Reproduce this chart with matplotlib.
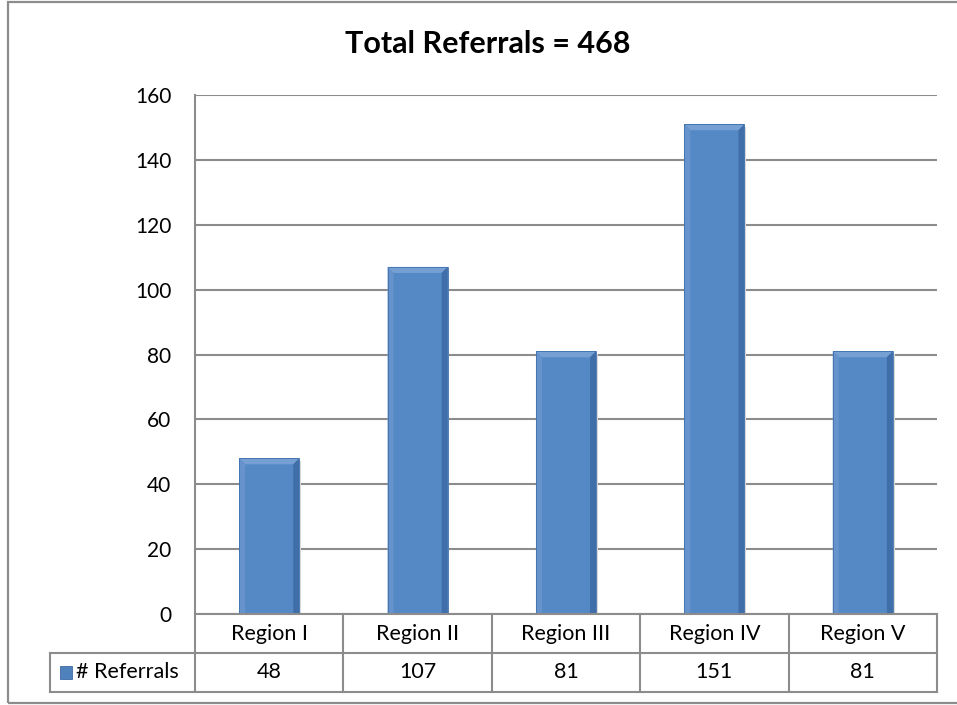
import matplotlib
matplotlib.use("Agg")
import matplotlib.pyplot as plt
from matplotlib.patches import Polygon, Rectangle

categories = ["Region I", "Region II", "Region III", "Region IV", "Region V"]
referrals = [48, 107, 81, 151, 81]
series_name = "# Referrals"
title = "Total Referrals = 468"
yticks = [0, 20, 40, 60, 80, 100, 120, 140, 160]

plt.rcParams['font.family'] = ['Lato', 'DejaVu Sans']

W, H = 957, 705
fig = plt.figure(figsize=(W / 100, H / 100), dpi=100)
fig.patch.set_facecolor("white")

def px(x0, y0, x1, y1):
    return [x0 / W, 1 - y1 / H, (x1 - x0) / W, (y1 - y0) / H]

# outer chart frame
fig.add_artist(Rectangle((8 / W, 1 - 703 / H), (W + 20) / W, 701 / H,
                         transform=fig.transFigure, fill=False,
                         edgecolor="#8c8c8c", linewidth=1.6))

L, R, T, B = 195, 937, 95, 614
ax = fig.add_axes(px(L, T, R, B))
ax.set_xlim(-0.5, len(categories) - 0.5)
ax.set_ylim(0, 160)
ax.set_yticks(yticks)
ax.set_xticks([])
for s in ["top", "right", "bottom"]:
    ax.spines[s].set_visible(False)
ax.spines["left"].set_color("#8c8c8c")
ax.spines["left"].set_linewidth(1.5)
ax.tick_params(axis="y", length=0, pad=17, labelsize=15, labelcolor="#000000")
ax.yaxis.grid(True, color="#8c8c8c", linewidth=1.5)
ax.set_axisbelow(True)

bar_color = "#4f81bd"
bars = ax.bar(range(len(categories)), referrals, width=0.405, color="#5589c6",
              edgecolor="none", zorder=3)

bx = 6 / ((R - L) / 5)        # bevel width in data x units
by = 6 / ((B - T) / 160)      # bevel height in data y units
for b in bars:
    x0 = b.get_x(); x1 = x0 + b.get_width(); h = b.get_height()
    # faint shadow
    ax.add_patch(Rectangle((x1, 0), 0.012, h - by * 0.5, facecolor="#d8d8d8",
                           edgecolor="none", zorder=2))
    # top bevel (light)
    ax.add_patch(Polygon([(x0, h), (x1, h), (x1 - bx, h - by), (x0 + bx, h - by)],
                         closed=True, facecolor="#76a0d4", edgecolor="none", zorder=4))
    # left bevel
    ax.add_patch(Polygon([(x0, h), (x0 + bx, h - by), (x0 + bx, 0), (x0, 0)],
                         closed=True, facecolor="#6693cc", edgecolor="none", zorder=4))
    # right bevel (dark)
    ax.add_patch(Polygon([(x1, h), (x1 - bx, h - by), (x1 - bx, 0), (x1, 0)],
                         closed=True, facecolor="#406ea8", edgecolor="none", zorder=4))
    ax.add_patch(Rectangle((x0, 0), x1 - x0, h, fill=False, edgecolor="#4070ae",
                           linewidth=0.6, zorder=5))

# title
fig.text(488 / W, 1 - 44 / H, title, ha="center", va="center",
         fontsize=22, fontweight="bold", color="#000000")

# data table below the plot area
tax = fig.add_axes(px(50, B, R, 692))
xl = -0.5 - (L - 50) / ((R - L) / 5)
n = len(categories)
tax.set_xlim(xl, n - 0.5)
tax.set_ylim(2, 0)
tax.axis("off")
lc = "#8c8c8c"
lw = 1.5
tax.plot([-0.5, n - 0.5], [0, 0], color=lc, lw=lw, clip_on=False)
tax.plot([xl, n - 0.5], [1, 1], color=lc, lw=lw, clip_on=False)
tax.plot([xl, n - 0.5], [2, 2], color=lc, lw=lw, clip_on=False)
tax.plot([xl, xl], [1, 2], color=lc, lw=lw, clip_on=False)
for k in range(n + 1):
    tax.plot([k - 0.5, k - 0.5], [0, 2], color=lc, lw=lw, clip_on=False)
for i, (c, v) in enumerate(zip(categories, referrals)):
    tax.text(i, 0.5, c, ha="center", va="center", fontsize=15.5, color="#000000")
    tax.text(i, 1.5, str(v), ha="center", va="center", fontsize=15.5, color="#000000")
# legend key and label
unit = (R - L) / 5
kx = xl + 10 / unit
kw = 12 / unit
tax.add_patch(Rectangle((kx, 1.5 - 0.16), kw, 0.32, facecolor=bar_color,
                        edgecolor="#3d6aa3", linewidth=0.6, clip_on=False))
tax.text(kx + kw + 4 / unit, 1.5, series_name, ha="left", va="center",
         fontsize=15.5, color="#000000")

fig.savefig("out.png", dpi=100, facecolor="white")
